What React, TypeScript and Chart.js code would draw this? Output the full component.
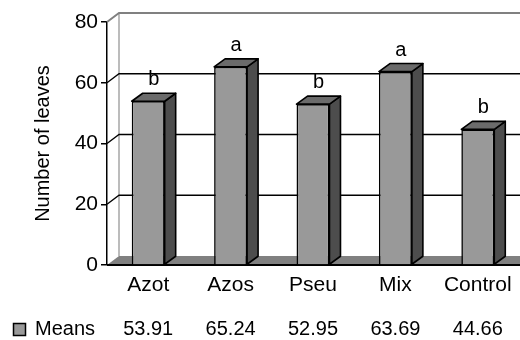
import React, { useEffect, useRef } from 'react';
import { Chart, registerables } from 'chart.js';

Chart.register(...registerables);

// Mean number of leaves per treatment, with significance group letters
const categories = ['Azot', 'Azos', 'Pseu', 'Mix', 'Control'];
const means = [53.91, 65.24, 52.95, 63.69, 44.66];
const groupLetters = ['b', 'a', 'b', 'a', 'b'];
const yTicks = [0, 20, 40, 60, 80];
const seriesName = 'Means';
const axisTitle = 'Number of leaves';

const FONT = "'Liberation Sans', Arial, sans-serif";
const FONT_SIZE = 20;
const AXIS_FONT_SIZE = 21;

// depth of the walls and of the columns in the pseudo-3D view
const WALL_DX = 12;
const WALL_DY = 9;
const BAR_DX = 11;
const BAR_DY = 8;

const FRONT_FILL = '#999999';
const TOP_FILL = '#6b6b6b';
const SIDE_FILL = '#4d4d4d';
const FLOOR_FILL = '#808080';

const walls = {
  id: 'walls',
  beforeDatasetsDraw(chart: any) {
    const { ctx, chartArea: a, scales } = chart;
    const y = scales.y;
    const right = chart.width;
    const y0 = y.getPixelForValue(0);
    const yTop = y.getPixelForValue(yTicks[yTicks.length - 1]);
    ctx.save();

    // floor
    ctx.fillStyle = FLOOR_FILL;
    ctx.beginPath();
    ctx.moveTo(a.left, y0);
    ctx.lineTo(a.left + WALL_DX, y0 - WALL_DY);
    ctx.lineTo(right, y0 - WALL_DY);
    ctx.lineTo(right, y0);
    ctx.closePath();
    ctx.fill();

    // back wall left edge
    ctx.strokeStyle = '#a6a6a6';
    ctx.lineWidth = 1.5;
    ctx.beginPath();
    ctx.moveTo(a.left + WALL_DX, yTop - WALL_DY);
    ctx.lineTo(a.left + WALL_DX, y0 - WALL_DY);
    ctx.stroke();

    // gridlines on side and back walls
    yTicks.forEach((v, i) => {
      if (v === 0) return;
      const py = y.getPixelForValue(v);
      const isTop = i === yTicks.length - 1;
      ctx.strokeStyle = isTop ? '#808080' : '#000000';
      ctx.lineWidth = isTop ? 2 : 1.3;
      ctx.beginPath();
      ctx.moveTo(a.left, py);
      ctx.lineTo(a.left + WALL_DX, py - WALL_DY);
      ctx.lineTo(right, py - WALL_DY);
      ctx.stroke();
    });

    // front edge of the floor
    ctx.strokeStyle = '#000000';
    ctx.lineWidth = 2;
    ctx.beginPath();
    ctx.moveTo(a.left, y0);
    ctx.lineTo(right, y0);
    ctx.stroke();
    ctx.restore();
  },
  afterDatasetsDraw(chart: any) {
    const { ctx } = chart;
    const meta = chart.getDatasetMeta(0);
    ctx.save();
    ctx.lineJoin = 'round';
    meta.data.forEach((bar: any, i: number) => {
      const { x, y: top, base, width } = bar.getProps(['x', 'y', 'base', 'width'], true);
      const xl = x - width / 2;
      const xr = x + width / 2;
      ctx.strokeStyle = '#000000';
      ctx.lineWidth = 1.6;

      // right side face
      ctx.fillStyle = SIDE_FILL;
      ctx.beginPath();
      ctx.moveTo(xr, top);
      ctx.lineTo(xr + BAR_DX, top - BAR_DY);
      ctx.lineTo(xr + BAR_DX, base - BAR_DY);
      ctx.lineTo(xr, base);
      ctx.closePath();
      ctx.fill();
      ctx.stroke();

      // top face
      ctx.fillStyle = TOP_FILL;
      ctx.beginPath();
      ctx.moveTo(xl, top);
      ctx.lineTo(xl + BAR_DX, top - BAR_DY);
      ctx.lineTo(xr + BAR_DX, top - BAR_DY);
      ctx.lineTo(xr, top);
      ctx.closePath();
      ctx.fill();
      ctx.stroke();

      // group letter
      ctx.fillStyle = '#000000';
      ctx.font = `${FONT_SIZE}px ${FONT}`;
      ctx.textAlign = 'center';
      ctx.textBaseline = 'alphabetic';
      ctx.fillText(groupLetters[i], x + BAR_DX / 2, top - BAR_DY - 8);
    });
    ctx.restore();
  },
  afterDraw(chart: any) {
    const { ctx, scales } = chart;
    const xs = scales.x;
    const rowY = 329;
    ctx.save();
    // legend key
    ctx.fillStyle = FRONT_FILL;
    ctx.strokeStyle = '#000000';
    ctx.lineWidth = 1.5;
    ctx.fillRect(13.5, 323.5, 12, 12);
    ctx.strokeRect(13.5, 323.5, 12, 12);

    ctx.fillStyle = '#000000';
    ctx.font = `${FONT_SIZE}px ${FONT}`;
    ctx.textBaseline = 'middle';
    ctx.textAlign = 'left';
    ctx.fillText(seriesName, 35, rowY);
    ctx.textAlign = 'center';
    means.forEach((v, i) => {
      ctx.fillText(v.toFixed(2), xs.getPixelForValue(i), rowY);
    });
    ctx.restore();
  },
};

export default function App() {
  const canvasRef = useRef<HTMLCanvasElement | null>(null);

  useEffect(() => {
    if (!canvasRef.current) return;
    const chart = new Chart(canvasRef.current, {
      type: 'bar',
      data: {
        labels: categories,
        datasets: [
          {
            label: seriesName,
            data: means,
            backgroundColor: FRONT_FILL,
            borderColor: '#000000',
            borderWidth: 1.6,
            categoryPercentage: 1,
            barPercentage: 0.4,
          },
        ],
      },
      options: {
        responsive: false,
        devicePixelRatio: 1,
        animation: false,
        layout: { padding: { left: 0, top: 22, right: 1, bottom: 0 } },
        plugins: {
          legend: { display: false },
          tooltip: { enabled: false },
        },
        scales: {
          x: {
            grid: { display: false },
            border: { display: false },
            ticks: {
              color: '#000000',
              font: { family: FONT, size: AXIS_FONT_SIZE },
              padding: 0,
              maxRotation: 0,
              autoSkip: false,
            },
            afterFit: (s: any) => {
              s.height = 75;
            },
          },
          y: {
            min: 0,
            max: 80,
            afterBuildTicks: (s: any) => {
              s.ticks = yTicks.map((v) => ({ value: v }));
            },
            grid: {
              drawOnChartArea: false,
              drawTicks: true,
              tickLength: 6,
              color: '#000000',
              lineWidth: 1.5,
            },
            border: { color: '#000000', width: 1.5 },
            ticks: {
              color: '#000000',
              font: { family: FONT, size: AXIS_FONT_SIZE },
              padding: 3,
            },
            title: {
              display: true,
              text: axisTitle,
              color: '#000000',
              font: { family: FONT, size: FONT_SIZE, lineHeight: 1.2 },
              padding: { top: 31, bottom: 0 },
            },
            afterFit: (s: any) => {
              s.width = 107;
            },
          },
        },
      },
      plugins: [walls],
    });
    return () => chart.destroy();
  }, []);

  return (
    <div style={{ position: 'fixed', left: 0, top: 0, width: 520, height: 340, background: '#ffffff' }}>
      <canvas ref={canvasRef} width={520} height={340} style={{ display: 'block' }} />
    </div>
  );
}
